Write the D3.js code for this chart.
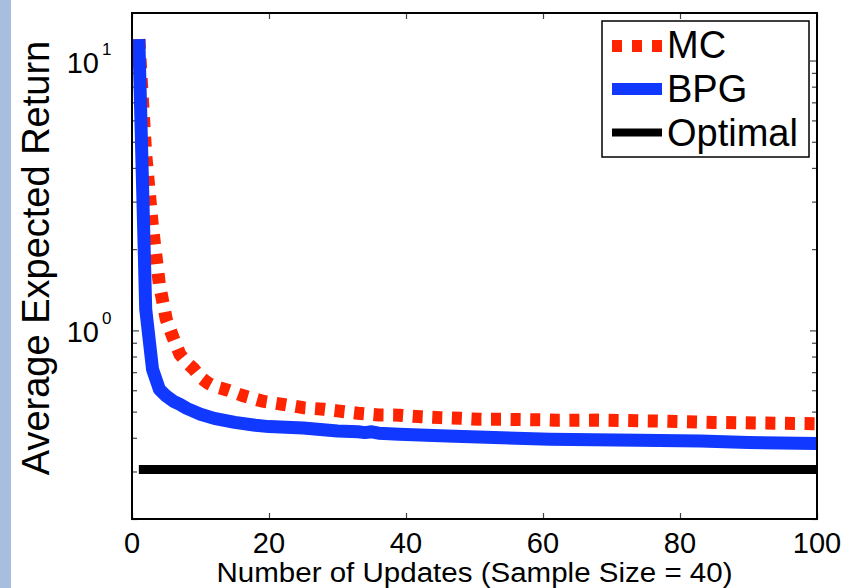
<!DOCTYPE html>
<html>
<head>
<meta charset="utf-8">
<script src="https://cdn.jsdelivr.net/npm/d3@7"></script>
<style>
body { margin: 0; background: #fff; }
text { font-family: "Liberation Sans", Arial, Helvetica, sans-serif; fill: #000; }
</style>
</head>
<body>
<div class="return-chart"></div>
<script>
"use strict";

// values (x = update number, y = average expected return)
const mc_updates = [1, 2, 3, 4, 5, 6, 7, 8, 9, 10, 11, 12, 13, 14, 16, 19, 22, 25, 28, 30, 33, 36, 39, 42, 45, 48, 51, 54, 57, 60, 62, 68, 77, 85, 94, 100];
const mc_return = [12, 4.5, 2.4, 1.48, 1.1, 0.94, 0.815, 0.76, 0.72, 0.67, 0.64, 0.62, 0.61, 0.6, 0.575, 0.547, 0.532, 0.517, 0.51, 0.503, 0.493, 0.486, 0.485, 0.479, 0.475, 0.472, 0.468, 0.468, 0.467, 0.466, 0.464, 0.465, 0.461, 0.456, 0.453, 0.451];

const bpg_updates = [1, 2, 3, 4, 5, 6, 7, 8, 10, 12, 15, 18, 20, 25, 30, 33, 34, 35, 36, 39, 46, 54, 61, 74, 83, 90, 100];
const bpg_return = [12, 1.2, 0.717, 0.605, 0.571, 0.547, 0.532, 0.514, 0.489, 0.472, 0.456, 0.445, 0.44, 0.435, 0.424, 0.421, 0.418, 0.421, 0.416, 0.412, 0.406, 0.4, 0.395, 0.392, 0.389, 0.384, 0.381];

const optimal_updates = [1, 100];
const optimal_return = [0.305, 0.305];

const series_names = ["MC", "BPG", "Optimal"];
const x_ticks = [0, 20, 40, 60, 80, 100];
const y_major_ticks = [1, 10];
const y_tick_exponents = ["0", "1"];
const y_minor_ticks = [0.2, 0.3, 0.4, 0.5, 0.6, 0.7, 0.8, 0.9, 2, 3, 4, 5, 6, 7, 8, 9];

window.onload = () => main();

function main() {
    const config = {
        width: 849,
        height: 588,
        left: 132,
        right: 817,
        top: 13,
        bottom: 519,
        colors: { MC: "#ff2400", BPG: "#1038ff", Optimal: "#000000" }
    };
    draw_chart(config);
}

function draw_chart(config) {
    const svg = d3.select(".return-chart")
        .append("svg")
        .attr("width", config.width)
        .attr("height", config.height);

    // light blue strip along the left edge
    svg.append("rect")
        .attr("x", 0).attr("y", 0)
        .attr("width", 11).attr("height", config.height)
        .attr("fill", "#a8bedf");

    const x = d3.scaleLinear().domain([0, 100]).range([config.left, config.right]);
    const y = d3.scaleLog().domain([0.2, 15]).range([config.bottom, config.top]);

    svg.append("defs").append("clipPath").attr("id", "plot-clip")
        .append("rect")
        .attr("x", config.left).attr("y", config.top)
        .attr("width", config.right - config.left)
        .attr("height", config.bottom - config.top);

    // ticks, pointing inwards on all four sides
    const tick_axes = [
        [d3.axisBottom(x).tickValues(x_ticks).tickSize(-6), `translate(0,${config.bottom})`],
        [d3.axisTop(x).tickValues(x_ticks).tickSize(-6), `translate(0,${config.top})`],
        [d3.axisLeft(y).tickValues(y_major_ticks).tickSize(-7), `translate(${config.left},0)`],
        [d3.axisLeft(y).tickValues(y_minor_ticks).tickSize(-5), `translate(${config.left},0)`],
        [d3.axisRight(y).tickValues(y_major_ticks).tickSize(-7), `translate(${config.right},0)`],
        [d3.axisRight(y).tickValues(y_minor_ticks).tickSize(-5), `translate(${config.right},0)`]
    ];
    tick_axes.forEach(([axis, transform]) => {
        const g = svg.append("g")
            .attr("transform", transform)
            .call(axis.tickFormat("").tickSizeOuter(0));
        g.select(".domain").remove();
        g.selectAll(".tick line").attr("stroke", "#444").attr("stroke-width", 1.2);
    });

    // x tick labels
    svg.append("g").selectAll("text")
        .data(x_ticks)
        .enter()
        .append("text")
        .attr("x", (d) => x(d))
        .attr("y", 553)
        .attr("text-anchor", "middle")
        .attr("font-size", 29)
        .text((d) => d);

    // y tick labels as powers of ten
    y_major_ticks.forEach((d, i) => {
        svg.append("text")
            .attr("x", 99)
            .attr("y", y(d) + 12)
            .attr("text-anchor", "end")
            .attr("font-size", 29)
            .text("10");
        svg.append("text")
            .attr("x", 102)
            .attr("y", y(d) - 6)
            .attr("font-size", 17)
            .text(y_tick_exponents[i]);
    });

    // axis titles
    svg.append("text")
        .attr("x", (config.left + config.right) / 2)
        .attr("y", 582)
        .attr("text-anchor", "middle")
        .attr("font-size", 27)
        .attr("textLength", 516)
        .attr("lengthAdjust", "spacingAndGlyphs")
        .text("Number of Updates (Sample Size = 40)");
    svg.append("text")
        .attr("transform", "translate(49,258) rotate(-90)")
        .attr("text-anchor", "middle")
        .attr("font-size", 38)
        .text("Average Expected Return");

    const line = d3.line()
        .x((d) => x(d[0]))
        .y((d) => y(d[1]));

    // drawn in plot order, so BPG sits on top of MC
    const plot = svg.append("g").attr("clip-path", "url(#plot-clip)");
    const series = [
        { name: "MC", data: d3.zip(mc_updates, mc_return), width: 13, dash: "10 9.6" },
        { name: "BPG", data: d3.zip(bpg_updates, bpg_return), width: 13, dash: null },
        { name: "Optimal", data: d3.zip(optimal_updates, optimal_return), width: 9, dash: null }
    ];
    plot.selectAll("path")
        .data(series)
        .enter()
        .append("path")
        .attr("d", (d) => line(d.data))
        .attr("fill", "none")
        .attr("stroke", (d) => config.colors[d.name])
        .attr("stroke-width", (d) => d.width)
        .attr("stroke-linejoin", "round")
        .attr("stroke-dasharray", (d) => d.dash);

    // frame
    svg.append("rect")
        .attr("x", config.left).attr("y", config.top)
        .attr("width", config.right - config.left)
        .attr("height", config.bottom - config.top)
        .attr("fill", "none")
        .attr("stroke", "#000")
        .attr("stroke-width", 2);

    // legend
    const legend = svg.append("g");
    legend.append("rect")
        .attr("x", 602).attr("y", 21)
        .attr("width", 207).attr("height", 136)
        .attr("fill", "#fff")
        .attr("stroke", "#000")
        .attr("stroke-width", 1.5);
    const legend_rows = [
        { name: series_names[0], line_y: 46, text_y: 58, width: 12, dash: "10 10" },
        { name: series_names[1], line_y: 89, text_y: 102, width: 12, dash: null },
        { name: series_names[2], line_y: 132.5, text_y: 146, width: 8, dash: null }
    ];
    legend.selectAll("g")
        .data(legend_rows)
        .enter()
        .append("g").each(function(d) {
            d3.select(this)
                .append("line")
                .attr("x1", 612).attr("x2", 662)
                .attr("y1", d.line_y).attr("y2", d.line_y)
                .attr("stroke", config.colors[d.name])
                .attr("stroke-width", d.width)
                .attr("stroke-dasharray", d.dash);
            d3.select(this)
                .append("text")
                .attr("x", 667)
                .attr("y", d.text_y)
                .attr("font-size", 38)
                .text(d.name);
        });
}
</script>
</body>
</html>
